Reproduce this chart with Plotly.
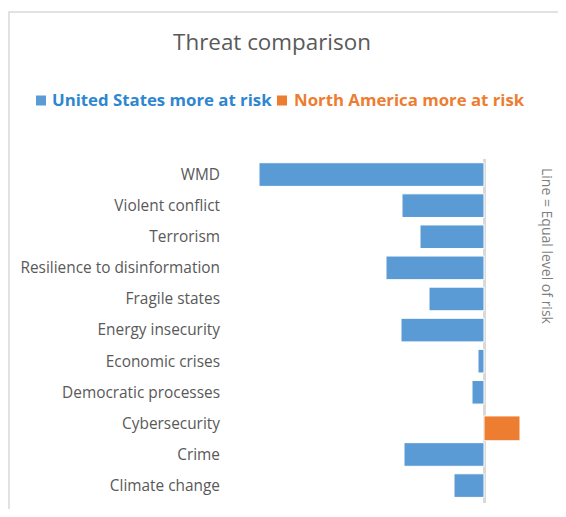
import plotly.graph_objects as go

categories = ["WMD", "Violent conflict", "Terrorism", "Resilience to disinformation",
              "Fragile states", "Energy insecurity", "Economic crises",
              "Democratic processes", "Cybersecurity", "Crime", "Climate change"]
# negative = United States more at risk, positive = North America more at risk
us_values = [-45, -16.4, -12.8, -19.6, -11, -16.6, -1.2, -2.4, None, -16, -6]
na_values = [None, None, None, None, None, None, None, None, 7.2, None, None]
legend_names = ["United States more at risk", "North America more at risk"]
colors = ["#5B9BD5", "#ED7D31"]
legend_text_colors = ["#2E86D0", "#ED7D31"]

OFF = 8  # page body margin compensation
W, H = 566 - 2 * OFF, 517 - 2 * OFF  # figure + body margins fit the window
# desired page coordinates of the plot area
PL, PR, PT, PB = 228, 530, 159, 503
ML, MR, MT, MB = PL - OFF, W - (PR - OFF), PT - OFF, H - (PB - OFF)
pw, ph = W - ML - MR, H - MT - MB

def px_x(x):
    return (x - OFF - ML) / pw

def px_y(y):
    return (H - MB - (y - OFF)) / ph

fig = go.Figure()
fig.add_trace(go.Bar(
    y=categories, x=us_values, orientation="h", name=legend_names[0],
    marker=dict(color=colors[0], line=dict(color="white", width=1)),
    showlegend=False,
))
fig.add_trace(go.Bar(
    y=categories, x=na_values, orientation="h", name=legend_names[1],
    marker=dict(color=colors[1], line=dict(color="white", width=1)),
    width=0.8, offset=-0.24, showlegend=False,
))

shapes = [dict(type="rect", xref="paper", yref="paper",
               x0=px_x(OFF + 1), x1=px_x(W + 60), y0=px_y(H + 60), y1=px_y(12),
               line=dict(color="#D9D9D9", width=1.5), fillcolor="rgba(0,0,0,0)",
               layer="below")]
annotations = [dict(text="Line = Equal level of risk", textangle=90,
                    xref="paper", yref="paper", x=px_x(548), y=px_y(246),
                    xanchor="center", yanchor="middle",
                    showarrow=False, font=dict(size=14, color="#7F7F7F"))]

# legend (drawn manually so it stays on one line)
sq_x = [36, 277]
txt_x = [51, 293]
for i in range(2):
    shapes.append(dict(type="rect", xref="paper", yref="paper",
                       x0=px_x(sq_x[i]), x1=px_x(sq_x[i] + 10),
                       y0=px_y(105.5), y1=px_y(95.5),
                       line=dict(width=0), fillcolor=colors[i]))
    annotations.append(dict(text="<b>" + legend_names[i] + "</b>",
                            xref="paper", yref="paper", x=px_x(txt_x[i] - 1), y=px_y(100),
                            xanchor="left", yanchor="middle", showarrow=False,
                            font=dict(size=16.8, color=legend_text_colors[i])))

fig.update_layout(
    width=W, height=H,
    margin=dict(l=ML, r=MR, t=MT, b=MB, autoexpand=False),
    paper_bgcolor="white", plot_bgcolor="white",
    barmode="relative", bargap=0.24,
    font=dict(family="Open Sans, sans-serif", color="#595959", size=15.4),
    title=dict(text="Threat comparison", x=(272 - OFF) / W, xref="container", xanchor="center",
               y=1 - (42 - OFF) / H, yref="container", yanchor="middle",
               font=dict(size=22.4, color="#595959")),
    showlegend=False,
    xaxis=dict(range=[-51.2, 9.2], showticklabels=False, showgrid=False,
               zeroline=True, zerolinecolor="#D9D9D9", zerolinewidth=3,
               showline=False, ticks=""),
    yaxis=dict(categoryorder="array", categoryarray=categories, autorange="reversed",
               showgrid=False, showline=False, ticks="", ticklabelstandoff=7,
               tickfont=dict(size=15.4, color="#595959")),
    shapes=shapes,
    annotations=annotations,
)

fig.write_html("out.html")
